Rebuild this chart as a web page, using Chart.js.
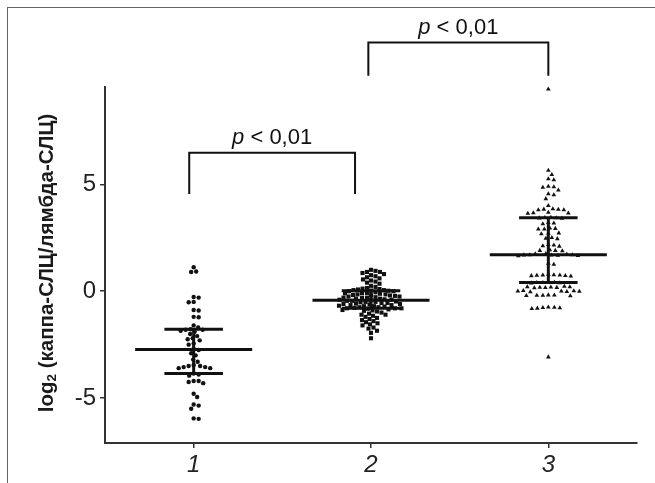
<!DOCTYPE html>
<html lang="ru">
<head>
<meta charset="UTF-8">
<title>log2 (каппа-СЛЦ/лямбда-СЛЦ)</title>
<script src="https://cdn.jsdelivr.net/npm/chart.js"></script>
<style>
  html, body { margin: 0; padding: 0; background: #fff; }
  #wrap { position: relative; width: 655px; height: 483px; overflow: hidden; }
  #frame { position: absolute; left: 7px; top: 7px; width: 700px; height: 600px;
           border-top: 1.5px solid #666; border-left: 1.5px solid #666; }
  canvas { position: absolute; left: 0; top: 0; }
</style>
</head>
<body>
<div id="wrap">
  <div id="frame"></div>
  <canvas id="chart" width="655" height="483"></canvas>
</div>
<script>
// группы и значения log2(каппа/лямбда)
const groups = [1, 2, 3];
const group1 = [1.12, 0.92, 0.9, -0.27, -0.3, -0.5, -0.52, -0.88, -0.9, -1.2, -1.22, -1.6, -1.7,
  -1.78, -1.8, -1.8, -1.85, -1.9, -2.0, -2.1, -2.2, -2.25, -2.3, -2.45, -2.5, -2.7,
  -2.75, -2.9, -3.0, -3.2, -3.3, -3.45, -3.5, -3.5, -3.55, -3.55, -3.6, -3.6, -3.85,
  -3.9, -3.95, -4.2, -4.2, -4.25, -4.3, -4.8, -4.95, -5.3, -5.35, -5.5, -5.95, -5.97];
const group2 = [1.0, 0.95, 0.9, 0.9, 0.85, 0.8, 0.75, 0.7, 0.65, 0.6, 0.55, 0.5, 0.45, 0.4, 0.35,
  0.25, 0.2, 0.15, 0.12, 0.1, 0.08, 0.05, 0.05, 0.03, 0.02, 0.0, 0.0,
  -0.05, -0.08, -0.1, -0.1, -0.12, -0.15, -0.15, -0.18, -0.2, -0.2, -0.22, -0.25, -0.25,
  -0.28, -0.3, -0.3, -0.32, -0.35, -0.35, -0.38, -0.4, -0.4, -0.42,
  -0.45, -0.45, -0.48, -0.5, -0.5, -0.52, -0.55, -0.55, -0.58, -0.6, -0.6, -0.62, -0.65,
  -0.65, -0.68, -0.7, -0.7, -0.72, -0.75, -0.75, -0.78, -0.8, -0.8, -0.8, -0.82,
  -0.85, -0.88, -0.9, -0.92, -0.95, -1.0, -1.05, -1.1, -1.1, -1.15, -1.2, -1.25, -1.3,
  -1.35, -1.4, -1.45, -1.5, -1.55, -1.6, -1.7, -1.75, -1.85, -1.95, -2.2];
const group3 = [9.45,
  5.65, 5.45, 5.25, 5.2, 4.9, 4.88, 4.85, 4.72, 4.55, 4.5, 4.32, 4.0,
  3.85, 3.83, 3.82, 3.8, 3.8, 3.68, 3.66, 3.65, 3.64,
  3.45, 3.44, 3.43, 3.42, 3.4,
  3.2, 3.18, 3.15, 2.95, 2.93, 2.9, 2.9, 2.72, 2.7, 2.68, 2.5, 2.47, 2.45,
  2.18, 2.15, 2.12, 2.1, 1.93, 1.9, 1.9, 1.88,
  1.75, 1.74, 1.72, 1.7, 1.7, 1.69, 1.68, 1.67, 1.66, 1.65,
  1.3, 1.25,
  0.78, 0.76, 0.75, 0.75, 0.74, 0.73, 0.72, 0.7,
  0.42, 0.41, 0.4, 0.4, 0.39, 0.38,
  0.22, 0.2, 0.2, 0.19, 0.18, 0.17, 0.16, 0.15,
  0.02, 0.01, 0.0, 0.0, -0.01, -0.02, -0.03,
  -0.18, -0.19, -0.2, -0.2, -0.21, -0.22,
  -0.75, -0.76, -0.77, -0.78, -0.8, -0.82,
  -3.08];

// медиана и межквартильный размах
const medians = [-2.73, -0.42, 1.7];
const q1 = [-3.85, -0.8, 0.41];
const q3 = [-1.78, 0.02, 3.44];

const yTicks = [-5, 0, 5];

// скобки значимости
const bracketFrom = [0.975, 1.985];
const bracketTo = [1.91, 3.0];
const bracketTop = [6.47, 11.63];
const bracketBottom = [4.55, 10.08];
const bracketP = ['p', 'p'];
const bracketText = [' < 0,01', ' < 0,01'];

const FONT = '"Liberation Sans", Arial, sans-serif';
const INK = '#111';

const summaryPlugin = {
  id: 'summary',
  afterDatasetsDraw(chart) {
    const { ctx, scales: { x, y } } = chart;
    ctx.save();
    ctx.strokeStyle = INK;
    ctx.lineWidth = 3;
    groups.forEach((g, i) => {
      const seg = (x0, y0, x1, y1) => {
        ctx.beginPath();
        ctx.moveTo(x.getPixelForValue(x0), y.getPixelForValue(y0));
        ctx.lineTo(x.getPixelForValue(x1), y.getPixelForValue(y1));
        ctx.stroke();
      };
      seg(g - 0.33, medians[i], g + 0.33, medians[i]);
      seg(g - 0.165, q1[i], g + 0.165, q1[i]);
      seg(g - 0.165, q3[i], g + 0.165, q3[i]);
      seg(g, q1[i], g, q3[i]);
    });
    ctx.restore();
  },
  afterDraw(chart) {
    const { ctx, scales: { x, y }, chartArea } = chart;
    ctx.save();
    // скобки
    ctx.strokeStyle = INK;
    ctx.fillStyle = INK;
    ctx.lineWidth = 2;
    bracketFrom.forEach((f, i) => {
      const xl = x.getPixelForValue(f), xr = x.getPixelForValue(bracketTo[i]);
      const yt = y.getPixelForValue(bracketTop[i]), yb = y.getPixelForValue(bracketBottom[i]);
      ctx.beginPath();
      ctx.moveTo(xl, yb);
      ctx.lineTo(xl, yt);
      ctx.lineTo(xr, yt);
      ctx.lineTo(xr, yb);
      ctx.stroke();
      const italic = 'italic 22px ' + FONT, normal = '22px ' + FONT;
      ctx.font = italic;
      const w1 = ctx.measureText(bracketP[i]).width;
      ctx.font = normal;
      const w2 = ctx.measureText(bracketText[i]).width;
      let tx = (xl + xr) / 2 - (w1 + w2) / 2;
      ctx.textBaseline = 'alphabetic';
      ctx.textAlign = 'left';
      ctx.font = italic;
      ctx.fillText(bracketP[i], tx, yt - 9);
      ctx.font = normal;
      ctx.fillText(bracketText[i], tx + w1, yt - 9);
    });
    // подпись оси Y с нижним индексом
    const cy = (chartArea.top + chartArea.bottom) / 2 - 2;
    ctx.translate(47, cy);
    ctx.rotate(-Math.PI / 2);
    const main = 'bold 20.5px ' + FONT, sub = 'bold 13.5px ' + FONT;
    const parts = [['log', main, 0], ['2', sub, 5], [' (каппа-СЛЦ/лямбда-СЛЦ)', main, 0]];
    let total = 0;
    parts.forEach(p => { ctx.font = p[1]; total += ctx.measureText(p[0]).width; });
    let px = -total / 2;
    ctx.textBaseline = 'middle';
    ctx.fillStyle = '#1a1a1a';
    parts.forEach(p => {
      ctx.font = p[1];
      ctx.fillText(p[0], px, p[2]);
      px += ctx.measureText(p[0]).width;
    });
    ctx.restore();
  }
};

const series = [group1, group2, group3];
const styles = [
  { pointStyle: 'circle', radius: 2.2, gap: 4.8 },
  { pointStyle: 'rect', radius: 2.9, gap: 4.6 },
  { pointStyle: 'triangle', radius: 2.7, gap: 5.6 }
];

const chart = new Chart(document.getElementById('chart'), {
  type: 'scatter',
  data: {
    datasets: series.map((vals, i) => ({
      data: vals.map(v => ({ x: groups[i], y: v })),
      pointStyle: styles[i].pointStyle,
      pointRadius: styles[i].radius,
      backgroundColor: INK,
      borderColor: INK,
      borderWidth: 0,
      clip: false
    }))
  },
  options: {
    responsive: false,
    animation: false,
    events: [],
    layout: { padding: { left: 7, top: 87, right: 18, bottom: 0 } },
    plugins: { legend: { display: false }, tooltip: { enabled: false } },
    scales: {
      x: {
        type: 'linear', min: 0.5, max: 3.5,
        afterBuildTicks: s => { s.ticks = groups.map(v => ({ value: v })); },
        afterFit: s => { s.height = 40; },
        grid: { drawOnChartArea: false, drawTicks: true, tickLength: 5, color: '#333', lineWidth: 1.5 },
        border: { color: '#333', width: 2 },
        ticks: { autoSkip: false, maxRotation: 0, padding: 3, color: '#222',
                 font: { family: FONT, size: 24, style: 'italic' }, callback: v => String(v) }
      },
      y: {
        min: -7.1, max: 9.55,
        afterBuildTicks: s => { s.ticks = yTicks.map(v => ({ value: v })); },
        afterFit: s => { s.width = 98; },
        grid: { drawOnChartArea: false, drawTicks: true, tickLength: 5, color: '#333', lineWidth: 1.5 },
        border: { color: '#333', width: 2 },
        ticks: { autoSkip: false, padding: 4, color: '#222',
                 font: { family: FONT, size: 24 }, callback: v => String(v) }
      }
    }
  },
  plugins: [summaryPlugin]
});

// раскладка точек «пчелиным роем» по пиксельным координатам шкал
function swarm(pys, d) {
  const order = pys.map((_, i) => i).sort((a, b) => pys[a] - pys[b]);
  const placed = [];
  const out = new Array(pys.length).fill(0);
  order.forEach(i => {
    const yp = pys[i];
    const near = placed.filter(p => Math.abs(p.y - yp) < d);
    let xp = 0;
    for (let k = 0; k < 600; k++) {
      const step = Math.ceil(k / 2) * 0.5;
      const cand = k % 2 ? step : -step;
      if (near.every(p => (p.x - cand) ** 2 + (p.y - yp) ** 2 >= d * d * 0.97)) { xp = cand; break; }
    }
    placed.push({ x: xp, y: yp });
    out[i] = xp;
  });
  return out;
}

const xs = chart.scales.x, ys = chart.scales.y;
const pxPerX = xs.getPixelForValue(1) - xs.getPixelForValue(0);
series.forEach((vals, i) => {
  const offs = swarm(vals.map(v => ys.getPixelForValue(v)), styles[i].gap);
  chart.data.datasets[i].data = vals.map((v, j) => ({ x: groups[i] + offs[j] / pxPerX, y: v }));
});
chart.update('none');
</script>
</body>
</html>
